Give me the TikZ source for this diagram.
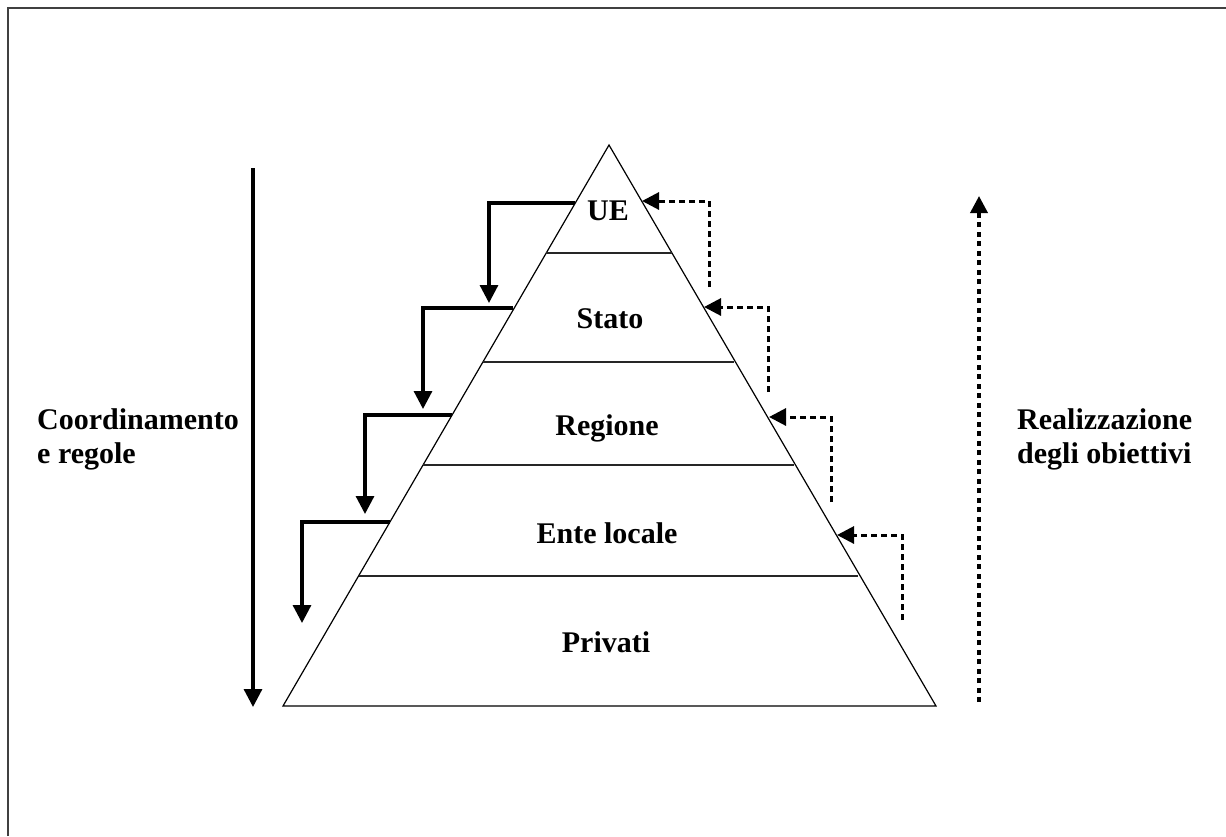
\documentclass[tikz,border=0pt]{standalone}
\usepackage{fontspec}
\setmainfont{Liberation Serif}
\usetikzlibrary{arrows.meta}
\begin{document}
\begin{tikzpicture}[x=1pt,y=-1pt,
  lbl/.style={font=\fontsize{30}{33}\selectfont\bfseries, inner sep=0pt, anchor=base},
  side/.style={font=\fontsize{30}{34}\selectfont\bfseries, inner sep=0pt, anchor=base west, align=left},
  pyr/.style={draw=black, line width=1.2pt, line join=miter},
  tier/.style={draw=black!85, line width=1.8pt},
  down/.style={draw=black, line width=3.2pt, -{Triangle[length=18pt,width=18pt]}},
  up/.style={draw=black, line width=3pt, dash pattern=on 6pt off 4pt, -{Triangle[length=17pt,width=17pt]}},
  longdown/.style={draw=black, line width=3.2pt, -{Triangle[length=18pt,width=18pt]}},
  longup/.style={draw=black, line width=3.6pt, dash pattern=on 5pt off 4.5pt, -{Triangle[length=17pt,width=17pt]}},
  frame/.style={draw=black!75, line width=2pt}]
\useasboundingbox (0,0) rectangle (1226,836);
\fill[white] (0,0) rectangle (1226,836);
% frame (only top and left edges visible)
\draw[frame] (8,836) -- (8,8) -- (1226,8);
% pyramid
\coordinate (apex) at (609,145);
\coordinate (bl) at (283,706);
\coordinate (br) at (936,706);
\draw[pyr] (apex) -- (bl) -- (br) -- cycle;
\coordinate (t1l) at (546,253); \coordinate (t1r) at (672,253);
\coordinate (t2l) at (483,362); \coordinate (t2r) at (734,362);
\coordinate (t3l) at (423,465); \coordinate (t3r) at (794,465);
\coordinate (t4l) at (359,576); \coordinate (t4r) at (858,576);
\draw[tier] (t1l) -- (t1r);
\draw[tier] (t2l) -- (t2r);
\draw[tier] (t3l) -- (t3r);
\draw[tier] (t4l) -- (t4r);
% labels
\node[lbl] (ue) at (608,220) {UE};
\node[lbl] (stato) at (610,328) {Stato};
\node[lbl] (regione) at (607,435) {Regione};
\node[lbl] (ente) at (607,543) {Ente locale};
\node[lbl] (privati) at (606,652) {Privati};
\node[side] (coord) at (37,463) {Coordinamento\\e regole};
\node[side] (real) at (1017,463) {Realizzazione\\degli obiettivi};
% left long arrow
\coordinate (ls) at (253,168); \coordinate (le) at (253,707);
\draw[longdown] (ls) -- (le);
% right long dotted arrow
\coordinate (rs) at (979,702); \coordinate (re) at (979,196);
\draw[longup] (rs) -- (re);
% left step arrows
\coordinate (a1) at (575,203); \coordinate (a1e) at (489,303);
\coordinate (a2) at (513,308); \coordinate (a2e) at (423,409);
\coordinate (a3) at (452,415); \coordinate (a3e) at (365,514);
\coordinate (a4) at (390,522); \coordinate (a4e) at (302,623);
\draw[down] (a1) -| (a1e);
\draw[down] (a2) -| (a2e);
\draw[down] (a3) -| (a3e);
\draw[down] (a4) -| (a4e);
% right step arrows (dashed)
\coordinate (b1s) at (709,287); \coordinate (b1) at (642,201);
\coordinate (b2s) at (768,392); \coordinate (b2) at (704,307);
\coordinate (b3s) at (831,502); \coordinate (b3) at (769,417);
\coordinate (b4s) at (902,620); \coordinate (b4) at (837,535);
\draw[up] (b1s) |- (b1);
\draw[up] (b2s) |- (b2);
\draw[up] (b3s) |- (b3);
\draw[up] (b4s) |- (b4);
\end{tikzpicture}
\end{document}
